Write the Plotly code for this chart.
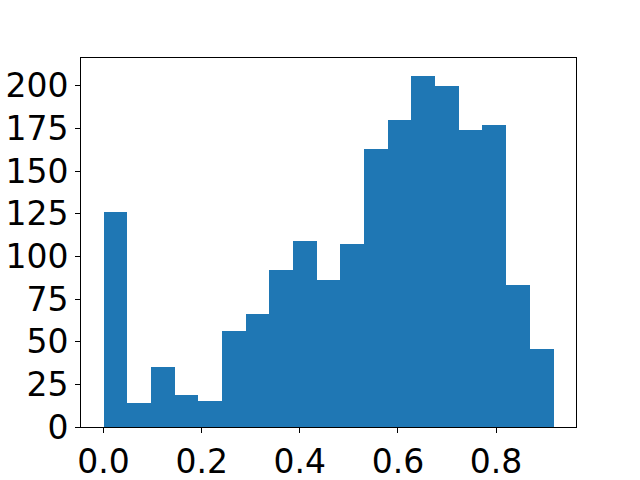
import numpy as np
import plotly.graph_objects as go

# histogram: 19 bins between 0 and ~0.917
bin_lo = 0.0
bin_hi = 0.917
counts = [126, 14, 35, 19, 15, 56, 66, 92, 109, 86, 107, 163, 180, 206, 200, 174, 177, 83, 46]
x_ticks = [0.0, 0.2, 0.4, 0.6, 0.8]
y_ticks = [0, 25, 50, 75, 100, 125, 150, 175, 200]

edges = np.linspace(bin_lo, bin_hi, len(counts) + 1)
centers = (edges[:-1] + edges[1:]) / 2
width = edges[1] - edges[0]

fig = go.Figure(go.Bar(
	x=centers,
	y=counts,
	width=width,
	marker=dict(color='#1f77b4', line=dict(width=0)),
))

span = bin_hi - bin_lo
axis_style = dict(
	showline=True,
	linecolor='black',
	linewidth=1,
	mirror=True,
	showgrid=False,
	zeroline=False,
	ticks='outside',
	ticklen=5,
	tickwidth=1,
	tickcolor='black',
	automargin=False,
	tickfont=dict(family='DejaVu Sans', size=33, color='black'),
)

fig.update_layout(
	width=640,
	height=480,
	margin=dict(l=81, r=64, t=58, b=53),
	paper_bgcolor='white',
	plot_bgcolor='white',
	bargap=0,
	showlegend=False,
	xaxis=dict(
		range=[bin_lo - 0.05 * span, bin_hi + 0.05 * span],
		tickvals=x_ticks,
		tickformat='.1f',
		**axis_style,
	),
	yaxis=dict(
		range=[0, max(counts) * 1.05],
		tickvals=y_ticks,
		**axis_style,
	),
)

# drop the default body margin so the figure sits at the page corner
fig.write_html(
	'out.html',
	config={'displayModeBar': False},
	post_script="document.body.style.margin='0';",
)
